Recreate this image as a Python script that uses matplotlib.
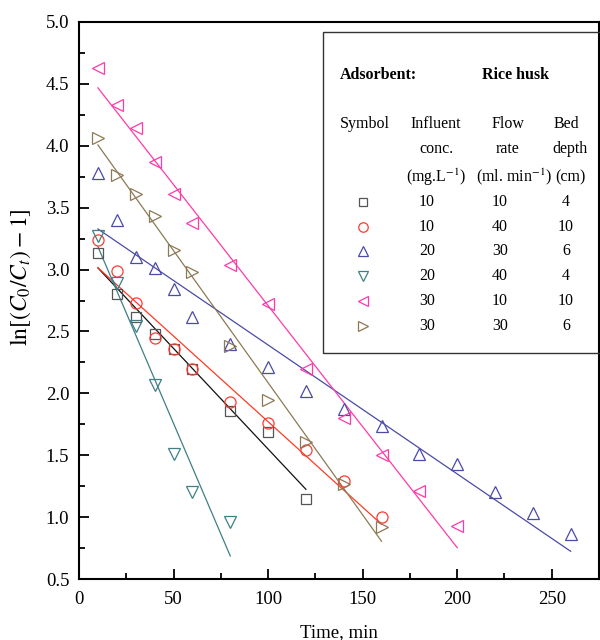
import numpy as np
import matplotlib
matplotlib.use("Agg")
import matplotlib.pyplot as plt
from matplotlib.lines import Line2D
from matplotlib.patches import Rectangle

plt.rcParams["font.family"] = ["Liberation Serif", "DejaVu Serif"]
plt.rcParams["mathtext.fontset"] = "stix"

# time (min) and ln[(C0/Ct)-1] for each run
t_sq = [10, 20, 30, 40, 50, 60, 80, 100, 120]
y_sq = [3.13, 2.80, 2.62, 2.48, 2.36, 2.20, 1.86, 1.69, 1.15]

t_ci = [10, 20, 30, 40, 50, 60, 80, 100, 120, 140, 160]
y_ci = [3.24, 2.99, 2.73, 2.45, 2.36, 2.20, 1.93, 1.76, 1.54, 1.29, 1.00]

t_up = [10, 20, 30, 40, 50, 60, 80, 100, 120, 140, 160, 180, 200, 220, 240, 260]
y_up = [3.78, 3.40, 3.10, 3.01, 2.84, 2.62, 2.40, 2.21, 2.02, 1.87, 1.74, 1.51, 1.43, 1.20, 1.03, 0.86]

t_dn = [10, 20, 30, 40, 50, 60, 80]
y_dn = [3.27, 2.89, 2.54, 2.07, 1.51, 1.20, 0.96]

t_lf = [10, 20, 30, 40, 50, 60, 80, 100, 120, 140, 160, 180, 200]
y_lf = [4.63, 4.33, 4.14, 3.87, 3.61, 3.38, 3.04, 2.72, 2.20, 1.80, 1.50, 1.21, 0.93]

t_rt = [10, 20, 30, 40, 50, 60, 80, 100, 120, 140, 160]
y_rt = [4.06, 3.76, 3.61, 3.43, 3.16, 2.98, 2.38, 1.95, 1.61, 1.27, 0.92]

# legend table: influent conc., flow rate, bed depth
conc = ["10", "10", "20", "20", "30", "30"]
flow = ["10", "40", "30", "40", "10", "30"]
depth = ["4", "10", "6", "4", "10", "6"]

series = [
    (t_sq, y_sq, "s", "#555555", "#111111", 6.5),
    (t_ci, y_ci, "o", "#ff3b30", "#ff3b25", 8),
    (t_up, y_up, "^", "#4a4aa8", "#4a4aa8", 8.5),
    (t_dn, y_dn, "v", "#3f7f86", "#3f7f86", 8.5),
    (t_lf, y_lf, "<", "#ff3aa8", "#ff3aa8", 8.5),
    (t_rt, y_rt, ">", "#8c7a55", "#8c7a55", 8.5),
]

fig = plt.figure(figsize=(6, 6.4), dpi=100)
ax = fig.add_axes([79 / 600, 1 - 579 / 640, 520 / 600, 557 / 640])

for t, y, m, mc, lc, ms in series:
    t = np.array(t, dtype=float)
    y = np.array(y, dtype=float)
    k, b = np.polyfit(t, y, 1)
    tt = np.array([t.min(), t.max()])
    ax.plot(tt, k * tt + b, color=lc, lw=0.9, zorder=2)
    ax.plot(t, y, m, ms=ms, mfc="none", mec=mc, mew=0.9, zorder=3)

ax.set_xlim(0, 275)
ax.set_ylim(0.5, 5.0)
ax.set_xticks(np.arange(0, 275, 50))
ax.set_xticks(np.arange(25, 276, 50), minor=True)
ax.set_yticks(np.arange(0.5, 5.01, 0.5))
ax.set_yticks(np.arange(0.75, 5.0, 0.5), minor=True)
ax.yaxis.set_major_formatter(matplotlib.ticker.FormatStrFormatter("%.1f"))
ax.tick_params(which="major", direction="in", length=7, width=1.3, labelsize=13.5, pad=7)
ax.tick_params(axis="x", which="major", pad=9)
ax.tick_params(which="minor", direction="in", length=4, width=1.3)
for s in ax.spines.values():
    s.set_linewidth(1.5)

ax.set_xlabel("Time, min", fontsize=13.5, labelpad=11)
ax.set_ylabel(r"$\mathrm{ln}[(C_0/C_t) - 1]$", fontsize=17, labelpad=4)
ax.yaxis.set_label_coords(-0.088, 0.542)


def fx(px):
    return px / 600


def fy(py):
    return 1 - py / 640


# legend box
fig.add_artist(Rectangle((fx(323), fy(353)), fx(300), 321 / 640, transform=fig.transFigure,
                         fill=False, lw=1.0, ec="#333333"))

fs = 11.5
fig.text(fx(340), fy(75), "Adsorbent:", fontsize=fs, fontweight="bold", va="center")
fig.text(fx(482), fy(75), "Rice husk", fontsize=fs, fontweight="bold", va="center")

fig.text(fx(340), fy(124), "Symbol", fontsize=fs, va="center")
fig.text(fx(436), fy(124), "Influent", fontsize=fs, va="center", ha="center")
fig.text(fx(508), fy(124), "Flow", fontsize=fs, va="center", ha="center")
fig.text(fx(566), fy(124), "Bed", fontsize=fs, va="center", ha="center")
fig.text(fx(436), fy(149), "conc.", fontsize=fs, va="center", ha="center")
fig.text(fx(508), fy(149), "rate", fontsize=fs, va="center", ha="center")
fig.text(fx(570), fy(149), "depth", fontsize=fs, va="center", ha="center")
fig.text(fx(436), fy(177), r"(mg.L$^{-1}$)", fontsize=fs, va="center", ha="center")
fig.text(fx(514), fy(177), r"(ml. min$^{-1}$)", fontsize=fs, va="center", ha="center")
fig.text(fx(570), fy(177), "(cm)", fontsize=fs, va="center", ha="center")

for i, (t, y, m, mc, lc, ms) in enumerate(series):
    py = 202 + i * 24.7
    fig.add_artist(Line2D([fx(363)], [fy(py)], marker=m, ms=ms * 0.85, mfc="none", mec=mc,
                          mew=0.9, ls="none", transform=fig.transFigure))
    fig.text(fx(427), fy(py), conc[i], fontsize=fs, va="center", ha="center")
    fig.text(fx(500), fy(py), flow[i], fontsize=fs, va="center", ha="center")
    fig.text(fx(566), fy(py), depth[i], fontsize=fs, va="center", ha="center")

fig.savefig("out.png", dpi=100)
